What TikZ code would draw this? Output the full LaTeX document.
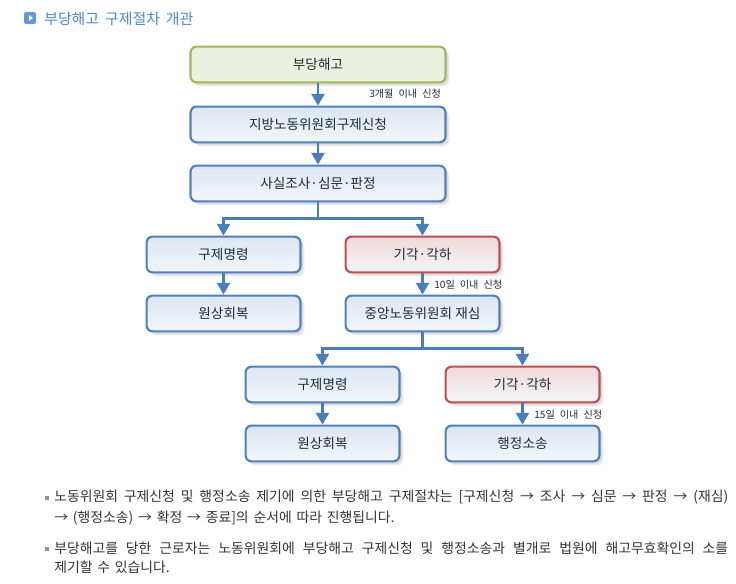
\documentclass[tikz,border=0pt]{standalone}
\usepackage{fontspec}
\setmainfont{Noto Sans CJK KR}
\usetikzlibrary{arrows.meta,shadows,shapes.geometric}
\definecolor{bl}{HTML}{4F81BD}
\definecolor{rd}{HTML}{C0504D}
\definecolor{gr}{HTML}{9BBB59}
\definecolor{txt}{HTML}{1F2A38}
\definecolor{body}{HTML}{333333}
\definecolor{ttl}{HTML}{4A86D8}
\definecolor{conn}{HTML}{4A7EBB}
\tikzset{
  softshadow/.style={
    general shadow={shadow xshift=3.4pt,shadow yshift=-3.4pt,fill=black,opacity=.03},
    general shadow={shadow xshift=2.6pt,shadow yshift=-2.6pt,fill=black,opacity=.05},
    general shadow={shadow xshift=1.8pt,shadow yshift=-1.8pt,fill=black,opacity=.06}},
  flowbox/.style={rectangle,rounded corners=4.5pt,line width=1.6pt,inner sep=0pt,
    minimum height=26.8pt,text=txt,font=\fontsize{10.2pt}{12pt}\selectfont,softshadow},
  wide/.style={flowbox,minimum width=191.2pt},
  narrow/.style={flowbox,minimum width=115.4pt},
  bluebox/.style={draw=bl,top color=bl!20!white,bottom color=bl!7!white},
  redbox/.style={draw=rd,top color=rd!22!white,bottom color=bl!7!white},
  greenbox/.style={draw=gr,fill=gr!20!white},
  flow/.style={draw=conn,line width=1.7pt,-{Triangle[width=9.8pt,length=8.8pt]}},
  note/.style={text=txt,font=\fontsize{7.6pt}{9pt}\selectfont,inner sep=0pt,anchor=west},
  para/.style={text=body,font=\fontsize{10.4pt}{12pt}\selectfont,inner sep=0pt,anchor=west},
  heading/.style={inner sep=0pt,anchor=west,text=ttl,font=\fontsize{11.2pt}{13pt}\selectfont},
  bullet/.style={fill=gray!85,minimum size=2.6pt,inner sep=0pt,rectangle}
}
\newcommand{\gapp}{\setlength{\spaceskip}{3.6pt plus 4pt minus 2pt}}
\newcommand{\gapn}{\setlength{\spaceskip}{3.8pt}}
\newcommand{\gapt}{\setlength{\spaceskip}{4.4pt}}
\newcommand{\pline}[1]{\gapp\makebox[505.5pt][s]{#1}}
\begin{document}
\begin{tikzpicture}[x=0.75pt,y=-0.75pt]
\useasboundingbox (0,0) rectangle (736,583);
% title
\node[rectangle,rounded corners=1.5pt,fill=ttl!85!white,minimum size=9pt,inner sep=0pt] (icon) at (30,18) {};
\node[isosceles triangle,isosceles triangle apex angle=70,fill=white,inner sep=0pt,minimum height=3pt,minimum width=4pt] (icontri) at (30.5,18) {};
\node[heading] (title) at (44,18.5) {\gapt 부당해고 구제절차 개관};
% column 1
\node[wide,greenbox] (a) at (318,64.5) {부당해고};
\node[wide,bluebox] (b) at (318,124.5) {지방노동위원회구제신청};
\node[wide,bluebox] (c) at (318,183.5) {사실조사·심문·판정};
% column 2
\node[narrow,bluebox] (d) at (223.5,254.5) {구제명령};
\node[narrow,bluebox] (e) at (223.5,313.5) {원상회복};
\node[narrow,redbox] (f) at (422.5,254.5) {기각·각하};
\node[narrow,bluebox] (g) at (422.5,313.5) {중앙노동위원회 재심};
% column 3
\node[narrow,bluebox] (h) at (322.5,384.5) {구제명령};
\node[narrow,bluebox] (i) at (322.5,443.5) {원상회복};
\node[narrow,redbox] (j) at (522.5,384.5) {기각·각하};
\node[narrow,bluebox] (k) at (522.5,443.5) {행정소송};
% connectors
\draw[flow] (a) -- (b);
\draw[flow] (b) -- (c);
\draw[flow] (c.south) -- ++(0,16) -| (d.north);
\draw[flow] (c.south) -- ++(0,16) -| (f.north);
\draw[flow] (d) -- (e);
\draw[flow] (f) -- (g);
\draw[flow] (g.south) -- ++(0,16) -| (h.north);
\draw[flow] (g.south) -- ++(0,16) -| (j.north);
\draw[flow] (h) -- (i);
\draw[flow] (j) -- (k);
% notes
\node[note] (n1) at (369,94) {\gapn 3개월 이내 신청};
\node[note] (n2) at (434,285) {\gapn 10일 이내 신청};
\node[note] (n3) at (534,415) {\gapn 15일 이내 신청};
% text
\node[bullet] (b1) at (47,498) {};
\node[para] (p1) at (54,497) {\pline{노동위원회 구제신청 및 행정소송 제기에 의한 부당해고 구제절차는 [구제신청 → 조사 → 심문 → 판정 → (재심)}};
\node[para] (p2) at (54,518) {\gapp → (행정소송) → 확정 → 종료]의 순서에 따라 진행됩니다.};
\node[bullet] (b2) at (47,549) {};
\node[para] (p3) at (54,548) {\pline{부당해고를 당한 근로자는 노동위원회에 부당해고 구제신청 및 행정소송과 별개로 법원에 해고무효확인의 소를}};
\node[para] (p4) at (54,567) {\gapp 제기할 수 있습니다.};
\end{tikzpicture}
\end{document}
